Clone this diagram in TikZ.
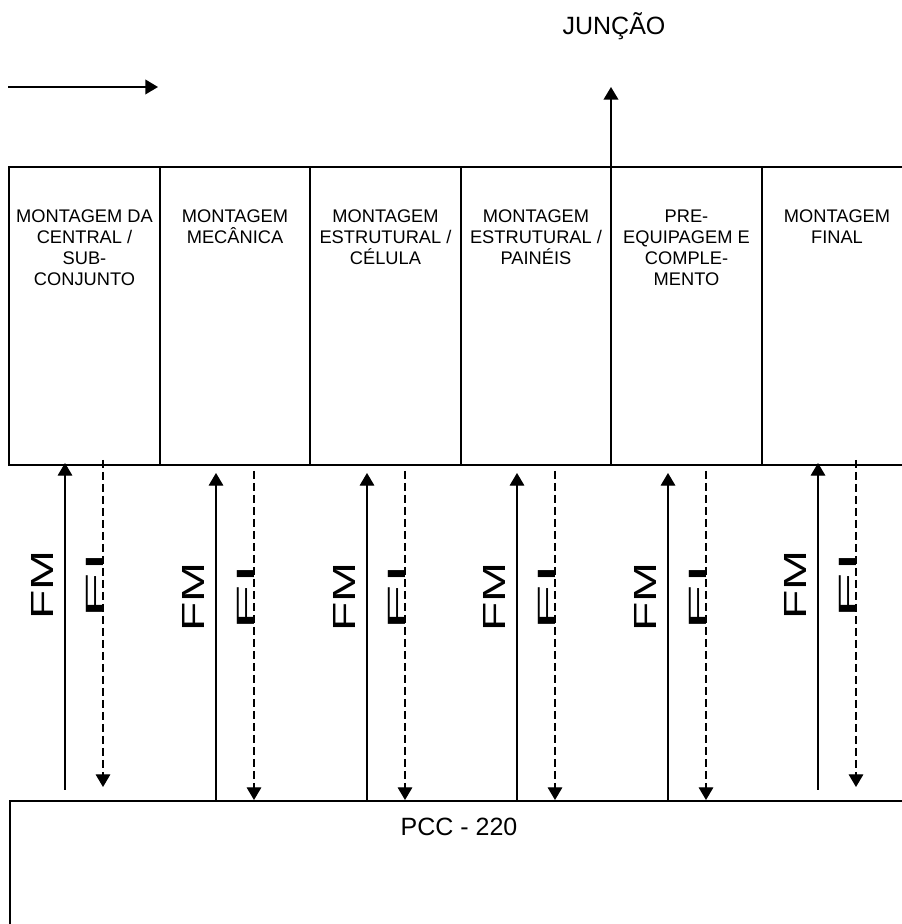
\documentclass[tikz,border=0pt]{standalone}
\usepackage{fontspec}
\setmainfont{Liberation Sans}
\usetikzlibrary{arrows.meta}

\tikzset{
  colbox/.style={draw, line width=1.3pt, inner sep=0pt, minimum width=113.25pt, minimum height=223.5pt},
  coltext/.style={anchor=north, inner sep=0pt, align=center, font=\fontsize{13.7}{15.75}\selectfont},
  fmtext/.style={rotate=90, anchor=base, inner sep=0pt, font=\fontsize{24}{24}\selectfont},
  fitext/.style={rotate=90, anchor=base, inner sep=0pt, font=\fontsize{18.75}{18.75}\selectfont},
  fiflow/.style={->, dash pattern=on 6pt off 3pt}
}

\begin{document}
\begin{tikzpicture}[x=0.75pt, y=0.75pt, >={Triangle[width=11pt,length=9.5pt]}, line width=0.9pt]
  \useasboundingbox (0,0) rectangle (902,924);
  \clip (0,0) rectangle (902,924);
  % arrow top left
  \coordinate (flowa) at (8,837);
  \coordinate (flowb) at (158,837);
  \draw[->, line width=1.2pt] (flowa) -- (flowb);
  \node[anchor=base, inner sep=0pt, font=\fontsize{18.75}{18.75}\selectfont] (juncao) at (614,889) {JUNÇÃO};
  % workstations
  \node[colbox] (c1) at (84.5,608) {};
  \node[colbox] (c2) at (235,608) {};
  \node[colbox] (c3) at (385.5,608) {};
  \node[colbox] (c4) at (536,608) {};
  \node[colbox] (c5) at (686.5,608) {};
  \node[colbox] (c6) at (837.5,608) {};
  \node[coltext] (t1) at (84.5,715) {MONTAGEM DA\\CENTRAL /\\SUB-\\CONJUNTO};
  \node[coltext] (t2) at (235,715) {MONTAGEM\\MECÂNICA};
  \node[coltext] (t3) at (385.5,715) {MONTAGEM\\ESTRUTURAL /\\CÉLULA};
  \node[coltext] (t4) at (536,715) {MONTAGEM\\ESTRUTURAL /\\PAINÉIS};
  \node[coltext] (t5) at (686.5,715) {PRE-\\EQUIPAGEM E\\COMPLE-\\MENTO};
  \node[coltext] (t6) at (837,715) {MONTAGEM\\FINAL};
  \coordinate (junfoot) at (611,757);
  \coordinate (juntip) at (611,837);
  \draw[->, line width=1.3pt] (junfoot) -- (juntip);
  % PCC
  \node[draw, line width=1.3pt, anchor=north west, inner sep=0pt, minimum width=678pt, minimum height=110pt] (pcc) at (9,124) {};
  \node[inner sep=0pt, font=\fontsize{18.75}{18.75}\selectfont] (pcclabel) at (459,97) {PCC - 220};
  % FM / FI flows
  \coordinate (fm1a) at (65,134);  \coordinate (fm1b) at (65,461);
  \coordinate (fi1a) at (103,464); \coordinate (fi1b) at (103,137);
  \coordinate (fm2a) at (216,124); \coordinate (fm2b) at (216,451);
  \coordinate (fi2a) at (254,453); \coordinate (fi2b) at (254,124);
  \coordinate (fm3a) at (367,124); \coordinate (fm3b) at (367,451);
  \coordinate (fi3a) at (405,453); \coordinate (fi3b) at (405,124);
  \coordinate (fm4a) at (517,124); \coordinate (fm4b) at (517,451);
  \coordinate (fi4a) at (555,453); \coordinate (fi4b) at (555,124);
  \coordinate (fm5a) at (668,124); \coordinate (fm5b) at (668,451);
  \coordinate (fi5a) at (706,453); \coordinate (fi5b) at (706,124);
  \coordinate (fm6a) at (818,134); \coordinate (fm6b) at (818,461);
  \coordinate (fi6a) at (856,464); \coordinate (fi6b) at (856,137);
  \draw[->] (fm1a) -- (fm1b);
  \draw[fiflow] (fi1a) -- (fi1b);
  \draw[->] (fm2a) -- (fm2b);
  \draw[fiflow] (fi2a) -- (fi2b);
  \draw[->] (fm3a) -- (fm3b);
  \draw[fiflow] (fi3a) -- (fi3b);
  \draw[->] (fm4a) -- (fm4b);
  \draw[fiflow] (fi4a) -- (fi4b);
  \draw[->] (fm5a) -- (fm5b);
  \draw[fiflow] (fi5a) -- (fi5b);
  \draw[->] (fm6a) -- (fm6b);
  \draw[fiflow] (fi6a) -- (fi6b);
  \node[fmtext] (fm1) at (53,339) {\scalebox{1.5}[1]{FM}};
  \node[fitext] (fi1) at (103,339) {\scalebox{3}[1]{FI}};
  \node[fmtext] (fm2) at (204,327) {\scalebox{1.5}[1]{FM}};
  \node[fitext] (fi2) at (254,327) {\scalebox{3}[1]{FI}};
  \node[fmtext] (fm3) at (355,327) {\scalebox{1.5}[1]{FM}};
  \node[fitext] (fi3) at (405,327) {\scalebox{3}[1]{FI}};
  \node[fmtext] (fm4) at (505,327) {\scalebox{1.5}[1]{FM}};
  \node[fitext] (fi4) at (555,327) {\scalebox{3}[1]{FI}};
  \node[fmtext] (fm5) at (656,327) {\scalebox{1.5}[1]{FM}};
  \node[fitext] (fi5) at (706,327) {\scalebox{3}[1]{FI}};
  \node[fmtext] (fm6) at (806,339) {\scalebox{1.5}[1]{FM}};
  \node[fitext] (fi6) at (856,339) {\scalebox{3}[1]{FI}};
\end{tikzpicture}
\end{document}
